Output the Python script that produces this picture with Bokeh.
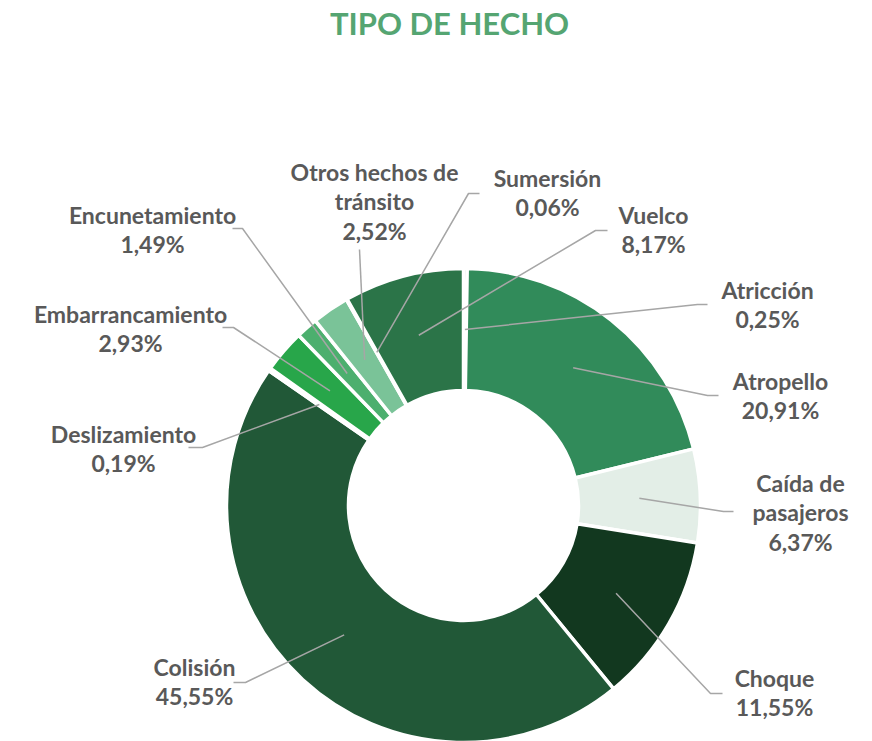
import math
from bokeh.plotting import figure
from bokeh.models import Range1d, ColumnDataSource
from bokeh.core.properties import value
from bokeh.embed import file_html
from bokeh.resources import INLINE

# ---- data ----
categories = ["Atricción", "Atropello", "Caída de\npasajeros", "Choque", "Colisión",
              "Deslizamiento", "Embarrancamiento", "Encunetamiento",
              "Otros hechos de\ntránsito", "Sumersión", "Vuelco"]
percentages = [0.25, 20.91, 6.37, 11.55, 45.55, 0.19, 2.93, 1.49, 2.52, 0.06, 8.17]
colors = ["#1f6b3d", "#318b5a", "#e3eee7", "#12381f", "#215837", "#1c7a3b",
          "#28a64a", "#4caf6e", "#7ac398", "#3c9a5f", "#2b7448"]
title_text = "TIPO DE HECHO"

# ---- layout (reference pixel space, y downward) ----
W, H = 872, 741
def Y(py):
    return H - py

CX, CY = 463, 505
R_OUT, R_IN = 237, 115
R_LEAD = 176
# label: text centre x, first line centre y, stub start, stub end
label_layout = [
    (767, 289, (707, 304), (697, 304)),
    (780, 380, (718, 395), (707, 395)),
    (800, 482, (733, 511), (723, 511)),
    (774, 677, (722, 693), (710, 693)),
    (194, 666, (233, 682), (245, 682)),
    (123, 433, (188, 447), (202, 447)),
    (130, 313, (222, 327), (233, 327)),
    (152, 214, (232, 228), (242, 228)),
    (374, 171, (359, 249), (359, 249)),
    (547, 177, (479, 193), (468, 193)),
    (653, 214, (607, 230), (595, 230)),
]
LINE_H = 29.5
FONT = "Lato"
TEXT_COLOR = "#595959"

total = sum(percentages)
starts, ends, mids = [], [], []
cum = 0.0
for v in percentages:
    a0 = math.pi / 2 - 2 * math.pi * cum / total
    cum += v
    a1 = math.pi / 2 - 2 * math.pi * cum / total
    starts.append(a0)
    ends.append(a1)
    mids.append((a0 + a1) / 2)

src = ColumnDataSource(dict(start=starts, end=ends, color=colors))

p = figure(width=W, height=H, x_range=Range1d(0, W), y_range=Range1d(0, H),
           output_backend="svg", toolbar_location=None, x_axis_type=None, y_axis_type=None,
           min_border=0, outline_line_color=None)
p.grid.visible = False
p.background_fill_color = "white"
p.border_fill_color = "white"

p.annular_wedge(x=CX, y=Y(CY), inner_radius=R_IN, outer_radius=R_OUT,
                start_angle="start", end_angle="end", direction="clock",
                fill_color="color", line_color="white", line_width=3.5, source=src)

# leader lines
xs, ys = [], []
for (tx, ty, s0, s1), m in zip(label_layout, mids):
    ex = CX + R_LEAD * math.cos(m)
    ey = Y(CY) + R_LEAD * math.sin(m)
    xs.append([s0[0], s1[0], ex])
    ys.append([Y(s0[1]), Y(s1[1]), ey])
p.multi_line(xs=xs, ys=ys, line_color="#a6a6a6", line_width=1.5)

# labels
lx, ly, lt = [], [], []
for name, v, (tx, ty, s0, s1) in zip(categories, percentages, label_layout):
    lines = name.split("\n") + [f"{v:.2f}".replace(".", ",") + "%"]
    for i, t in enumerate(lines):
        lx.append(tx)
        ly.append(Y(ty + i * LINE_H))
        lt.append(t)
p.text(x=lx, y=ly, text=lt, text_align="center", text_baseline="middle",
       text_font=value(FONT), text_font_style="bold", text_font_size="23px",
       text_color=TEXT_COLOR)

p.text(x=[449], y=[Y(22)], text=[title_text], text_align="center", text_baseline="middle",
       text_font=value(FONT), text_font_style="bold", text_font_size="31px",
       text_color="#55a572")

open("out.html", "w").write(file_html(p, INLINE))
